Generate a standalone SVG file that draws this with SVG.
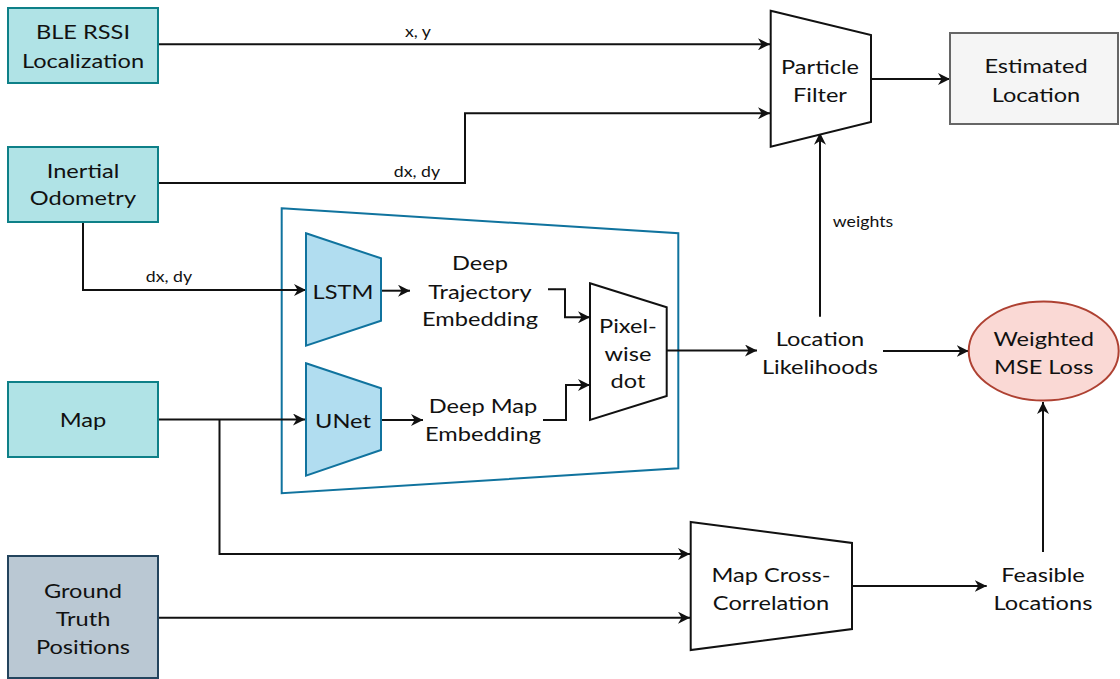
<svg xmlns="http://www.w3.org/2000/svg" width="1120" height="679" viewBox="0 0 1120 679">
  <style>
    text { font-family: Lato, "Liberation Sans", sans-serif; fill: #111; text-anchor: middle;
           transform: scaleX(1.18); transform-box: fill-box; transform-origin: center; }
    .big { font-size: 20px; }
    .small { font-size: 15px; }
    .teal { fill: #b0e3e6; stroke: #0e8088; stroke-width: 2; }
    .slate { fill: #bac8d3; stroke: #23445d; stroke-width: 2; }
    .grey { fill: #f5f5f5; stroke: #666666; stroke-width: 2; }
    .net { fill: #b1ddf0; stroke: #10739e; stroke-width: 2; }
    .op { fill: #ffffff; stroke: #111; stroke-width: 2; }
    .loss { fill: #fad9d5; stroke: #ae4132; stroke-width: 2; }
    .frame { fill: none; stroke: #10739e; stroke-width: 2; }
    .arrow { fill: none; stroke: #111; stroke-width: 2; marker-end: url(#head); }
  </style>
  <defs>
    <marker id="head" viewBox="0 0 10 10" refX="10" refY="5" markerWidth="12" markerHeight="12" markerUnits="userSpaceOnUse" orient="auto">
      <path d="M0,0 L10,5 L0,10 L3,5 z" fill="#111"/>
    </marker>
  </defs>

  <!-- learned model frame -->
  <g id="model-frame">
    <polygon class="frame" points="281.7,208.3 678.3,233.3 678.3,468.3 281.7,493.3"/>
  </g>

  <!-- connectors -->
  <g id="connectors">
    <path class="arrow" d="M158,44.3 H770"/>
    <path class="arrow" d="M158,183 H465 V113.3 H770"/>
    <path class="arrow" d="M83,222 V290 H306"/>
    <path class="arrow" d="M381,290.7 H410"/>
    <path class="arrow" d="M548,289.3 H565 V317.3 H590"/>
    <path class="arrow" d="M158,419.5 H305"/>
    <path class="arrow" d="M381,420 H423"/>
    <path class="arrow" d="M543,420 H566 V385 H590"/>
    <path class="arrow" d="M667,350.5 H757"/>
    <path class="arrow" d="M820,316.7 V132.7"/>
    <path class="arrow" d="M871,79 H950"/>
    <path class="arrow" d="M883,351 H968.7"/>
    <path class="arrow" d="M219.5,419.5 V554 H690"/>
    <path class="arrow" d="M158,617.7 H690"/>
    <path class="arrow" d="M852,586 H986.7"/>
    <path class="arrow" d="M1043,552 V402"/>
    <text class="small" x="418" y="37">x, y</text>
    <text class="small" x="417" y="177">dx, dy</text>
    <text class="small" x="169" y="282">dx, dy</text>
    <text class="small" x="863" y="227">weights</text>
  </g>

  <g id="ble">
    <rect class="teal" x="8" y="8" width="150" height="75"/>
    <text class="big" x="83" y="39">BLE RSSI</text>
    <text class="big" x="83" y="68">Localization</text>
  </g>

  <g id="odometry">
    <rect class="teal" x="8" y="147" width="150" height="75"/>
    <text class="big" x="83" y="178">Inertial</text>
    <text class="big" x="83" y="205">Odometry</text>
  </g>

  <g id="map">
    <rect class="teal" x="8" y="382" width="150" height="75"/>
    <text class="big" x="83" y="427">Map</text>
  </g>

  <g id="ground-truth">
    <rect class="slate" x="8" y="556" width="150" height="122"/>
    <text class="big" x="83" y="598">Ground</text>
    <text class="big" x="83" y="626">Truth</text>
    <text class="big" x="83" y="654">Positions</text>
  </g>

  <g id="lstm">
    <polygon class="net" points="306,233.3 381,258.3 381,320.7 306,345.7"/>
    <text class="big" x="343" y="299">LSTM</text>
  </g>

  <g id="unet">
    <polygon class="net" points="306,363.3 381,388.3 381,450 306,475.7"/>
    <text class="big" x="343" y="428">UNet</text>
  </g>

  <g id="trajectory-embedding">
    <text class="big" x="480" y="270">Deep</text>
    <text class="big" x="480" y="299">Trajectory</text>
    <text class="big" x="480" y="326">Embedding</text>
  </g>

  <g id="map-embedding">
    <text class="big" x="483" y="413">Deep Map</text>
    <text class="big" x="483" y="441">Embedding</text>
  </g>

  <g id="pixelwise-dot">
    <polygon class="op" points="590,283.3 666.7,307.3 666.7,396 590,420"/>
    <text class="big" x="628" y="333">Pixel-</text>
    <text class="big" x="628" y="361">wise</text>
    <text class="big" x="628" y="388">dot</text>
  </g>

  <g id="location-likelihoods">
    <text class="big" x="820" y="346">Location</text>
    <text class="big" x="820" y="374">Likelihoods</text>
  </g>

  <g id="particle-filter">
    <polygon class="op" points="770.7,10.7 871,35 871,122 770.7,146.7"/>
    <text class="big" x="820" y="74">Particle</text>
    <text class="big" x="820" y="102">Filter</text>
  </g>

  <g id="estimated-location">
    <rect class="grey" x="950" y="33" width="168" height="91"/>
    <text class="big" x="1036" y="73">Estimated</text>
    <text class="big" x="1036" y="102">Location</text>
  </g>

  <g id="weighted-mse-loss">
    <ellipse class="loss" cx="1043.7" cy="351" rx="75" ry="49.5"/>
    <text class="big" x="1043.7" y="346">Weighted</text>
    <text class="big" x="1043.7" y="374">MSE Loss</text>
  </g>

  <g id="map-cross-correlation">
    <polygon class="op" points="690.7,522 852,543 852,629 690.7,650"/>
    <text class="big" x="771" y="582">Map Cross-</text>
    <text class="big" x="771" y="610">Correlation</text>
  </g>

  <g id="feasible-locations">
    <text class="big" x="1043" y="582">Feasible</text>
    <text class="big" x="1043" y="610">Locations</text>
  </g>
</svg>
